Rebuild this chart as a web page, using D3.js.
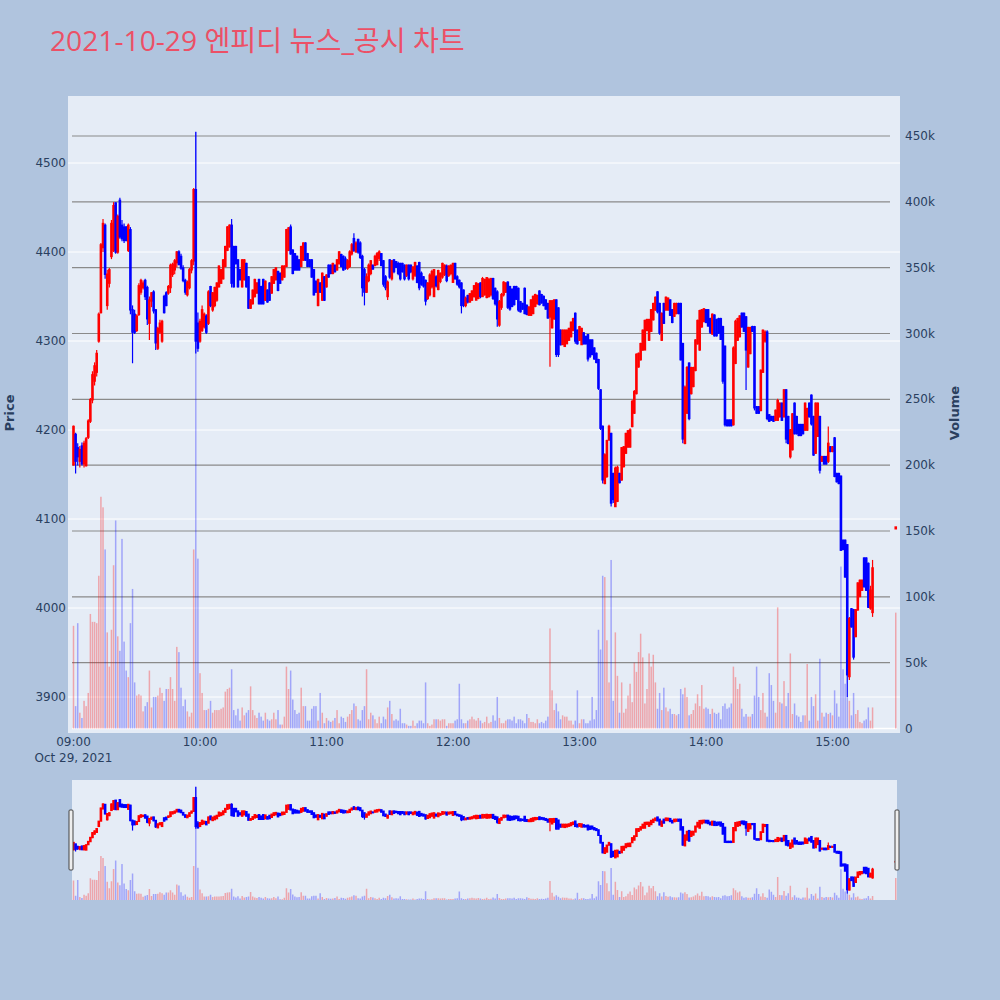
<!DOCTYPE html>
<html>
<head>
<meta charset="utf-8">
<script src="https://d3js.org/d3.v7.min.js"></script>
<style>
body { margin: 0; background: #b0c4de; }
svg { display: block; font-family: "DejaVu Sans", verdana, arial, sans-serif; }
</style>
</head>
<body>
<svg id="chart" width="1000" height="1000"></svg>
<script>
var chartTitle = "2021-10-29 엔피디 뉴스_공시 차트";
var tradeDate = "2021-10-29";
var sessionOpen = "09:00";      // one bar per minute from here
var auctionTime = "15:30";      // last entry of every array is the closing auction

var opens = [
  4161,4195,4180,4165,4182,4162,4160,4192,4210,4234,
  4255,4265,4300,4332,4405,4430,4340,4365,4395,4402,
  4455,4400,4458,4430,4428,4428,4402,4425,4335,4330,
  4312,4330,4355,4360,4368,4360,4320,4345,4355,4335,
  4292,4310,4300,4350,4354,4354,4360,4375,4380,4388,
  4400,4395,4382,4368,4352,4360,4380,4390,4470,4320,
  4300,4312,4316,4328,4320,4361,4335,4340,4346,4361,
  4365,4370,4384,4402,4406,4430,4406,4406,4391,4380,
  4361,4369,4387,4372,4337,4342,4350,4354,4369,4361,
  4369,4346,4357,4365,4354,4365,4369,4378,4376,4369,
  4372,4384,4402,4428,4402,4398,4395,4391,4384,4391,
  4410,4398,4391,4391,4380,4367,4340,4365,4346,4372,
  4361,4385,4385,4376,4385,4380,4387,4397,4395,4392,
  4382,4384,4398,4415,4400,4414,4410,4395,4380,4355,
  4368,4376,4385,4385,4386,4393,4398,4390,4372,4350,
  4391,4370,4391,4389,4387,4387,4387,4385,4374,4385,
  4385,4370,4374,4384,4388,4376,4372,4368,4348,4352,
  4361,4350,4372,4358,4367,4372,4375,4384,4374,4376,
  4366,4387,4372,4368,4365,4357,4340,4351,4344,4346,
  4350,4346,4348,4365,4350,4352,4349,4350,4352,4370,
  4359,4355,4318,4338,4352,4355,4366,4361,4358,4361,
  4361,4359,4344,4342,4359,4340,4329,4329,4331,4339,
  4342,4356,4352,4350,4346,4342,4327,4315,4325,4346,
  4337,4312,4296,4294,4297,4301,4305,4312,4331,4312,
  4301,4296,4309,4305,4307,4301,4301,4292,4286,4279,
  4245,4204,4140,4148,4189,4196,4151,4114,4120,4151,
  4144,4159,4174,4181,4181,4204,4219,4241,4271,4279,
  4290,4290,4312,4301,4311,4324,4335,4355,4342,4301,
  4342,4335,4335,4346,4335,4328,4331,4342,4342,4297,
  4185,4219,4275,4241,4249,4267,4297,4290,4316,4322,
  4335,4335,4325,4308,4329,4324,4325,4325,4316,4294,
  4211,4211,4211,4206,4275,4301,4305,4331,4331,4327,
  4271,4286,4316,4316,4226,4226,4222,4265,4300,4310,
  4217,4215,4215,4211,4211,4215,4230,4215,4245,4215,
  4170,4178,4230,4215,4206,4206,4206,4200,4200,4230,
  4239,4215,4174,4193,4215,4165,4170,4170,4165,4181,
  4176,4191,4151,4151,4148,4076,4076,4071,3923,3999,
  3998,3968,3998,4013,4020,4056,4056,4050,4000,3995,
  4089
];

var highs = [
  4205,4197,4185,4182,4186,4188,4192,4212,4236,4266,
  4276,4290,4332,4410,4437,4432,4380,4382,4436,4456,
  4456,4442,4461,4436,4432,4429,4432,4428,4340,4335,
  4330,4365,4370,4368,4370,4362,4350,4355,4357,4336,
  4316,4324,4324,4352,4356,4363,4387,4388,4392,4401,
  4402,4398,4385,4370,4368,4382,4392,4472,4535,4332,
  4325,4340,4332,4330,4357,4362,4355,4361,4366,4385,
  4381,4392,4407,4429,4431,4437,4407,4407,4392,4381,
  4392,4392,4388,4373,4347,4358,4370,4366,4370,4362,
  4370,4368,4358,4366,4373,4381,4383,4379,4377,4385,
  4385,4426,4428,4431,4403,4399,4396,4392,4407,4411,
  4411,4399,4392,4392,4381,4368,4370,4366,4377,4373,
  4375,4386,4386,4388,4386,4392,4401,4398,4396,4395,
  4392,4402,4410,4421,4412,4415,4412,4397,4382,4376,
  4387,4391,4386,4397,4400,4402,4399,4391,4374,4368,
  4392,4391,4392,4390,4389,4388,4388,4386,4386,4386,
  4386,4384,4389,4385,4389,4378,4373,4369,4366,4376,
  4380,4381,4374,4380,4377,4388,4386,4386,4385,4386,
  4388,4388,4374,4369,4366,4358,4350,4352,4354,4357,
  4363,4366,4365,4366,4372,4370,4372,4371,4371,4371,
  4360,4357,4346,4354,4367,4366,4367,4362,4359,4362,
  4362,4360,4345,4343,4360,4341,4339,4347,4351,4353,
  4352,4357,4353,4351,4347,4343,4346,4346,4347,4347,
  4338,4313,4313,4313,4313,4315,4322,4326,4332,4313,
  4317,4315,4310,4306,4308,4302,4302,4293,4287,4280,
  4246,4205,4174,4189,4206,4197,4152,4159,4160,4152,
  4181,4182,4197,4200,4202,4234,4245,4286,4287,4298,
  4313,4324,4325,4325,4336,4343,4350,4356,4343,4332,
  4343,4350,4349,4347,4336,4343,4343,4343,4343,4298,
  4250,4272,4276,4271,4271,4302,4324,4335,4336,4337,
  4336,4336,4326,4331,4330,4325,4326,4326,4317,4295,
  4212,4212,4212,4294,4324,4326,4329,4332,4332,4328,
  4316,4316,4317,4317,4227,4227,4268,4313,4312,4312,
  4218,4216,4216,4223,4235,4231,4231,4246,4246,4216,
  4201,4219,4231,4216,4207,4207,4207,4231,4225,4231,
  4240,4216,4231,4231,4216,4171,4171,4171,4204,4182,
  4182,4192,4152,4152,4149,4077,4077,4072,3990,4000,
  3999,3999,4029,4032,4032,4057,4057,4051,4025,4054,
  4091
];

var lows = [
  4160,4151,4160,4158,4160,4158,4159,4190,4208,4230,
  4250,4260,4298,4331,4400,4370,4335,4360,4392,4400,
  4398,4398,4415,4412,4410,4412,4400,4330,4275,4308,
  4310,4328,4352,4358,4346,4318,4301,4338,4331,4290,
  4290,4308,4298,4331,4339,4352,4354,4372,4375,4383,
  4385,4380,4366,4352,4350,4358,4376,4385,4286,4288,
  4298,4310,4314,4308,4318,4338,4333,4338,4344,4360,
  4364,4369,4383,4401,4405,4360,4360,4386,4360,4368,
  4360,4368,4360,4336,4336,4341,4349,4353,4341,4341,
  4341,4345,4343,4345,4353,4364,4368,4356,4364,4368,
  4371,4383,4401,4397,4375,4379,4379,4379,4383,4390,
  4390,4383,4383,4371,4351,4354,4339,4354,4345,4345,
  4360,4371,4375,4375,4377,4379,4386,4383,4379,4380,
  4380,4382,4396,4400,4400,4398,4392,4350,4340,4354,
  4366,4374,4380,4384,4385,4390,4384,4361,4357,4346,
  4370,4368,4376,4382,4374,4368,4377,4368,4372,4368,
  4376,4368,4372,4365,4357,4362,4360,4340,4346,4350,
  4359,4350,4360,4357,4365,4370,4373,4366,4372,4374,
  4366,4369,4362,4359,4331,4338,4338,4342,4343,4345,
  4349,4346,4347,4348,4350,4351,4348,4349,4350,4346,
  4340,4316,4316,4335,4350,4354,4336,4334,4338,4340,
  4346,4333,4332,4335,4330,4329,4329,4328,4330,4338,
  4341,4340,4342,4339,4335,4325,4271,4314,4324,4282,
  4282,4295,4296,4294,4297,4300,4304,4311,4297,4296,
  4300,4296,4296,4296,4277,4281,4284,4279,4275,4245,
  4200,4140,4139,4146,4188,4114,4118,4114,4119,4140,
  4143,4158,4173,4180,4180,4203,4218,4240,4270,4278,
  4289,4290,4311,4300,4310,4323,4334,4331,4307,4300,
  4319,4334,4334,4328,4320,4327,4330,4330,4278,4185,
  4184,4218,4211,4240,4248,4266,4296,4289,4315,4321,
  4320,4316,4308,4307,4305,4305,4308,4301,4252,4204,
  4204,4204,4204,4205,4274,4300,4304,4315,4310,4245,
  4270,4285,4310,4222,4218,4218,4221,4264,4298,4211,
  4209,4210,4209,4210,4210,4214,4210,4214,4185,4184,
  4168,4177,4195,4195,4193,4193,4195,4199,4199,4214,
  4205,4171,4173,4192,4151,4164,4161,4161,4163,4175,
  4175,4147,4141,4139,4064,4065,4034,3900,3919,3978,
  3942,3967,3997,4012,4019,4023,4019,4000,3998,3990,
  4089
];

var closes = [
  4204,4165,4170,4178,4162,4185,4190,4210,4234,4262,
  4272,4286,4330,4408,4432,4375,4375,4380,4432,4452,
  4400,4440,4417,4415,4413,4413,4430,4335,4310,4310,
  4328,4362,4368,4365,4350,4325,4346,4354,4334,4298,
  4314,4320,4322,4332,4340,4361,4385,4386,4390,4400,
  4386,4382,4368,4355,4366,4380,4390,4470,4300,4292,
  4322,4335,4330,4310,4355,4340,4354,4360,4365,4384,
  4380,4391,4406,4428,4430,4365,4361,4387,4361,4369,
  4391,4391,4361,4337,4346,4357,4369,4365,4342,4342,
  4342,4367,4344,4346,4372,4380,4382,4357,4365,4384,
  4384,4425,4427,4398,4376,4380,4380,4380,4406,4410,
  4391,4384,4384,4372,4352,4355,4369,4355,4376,4346,
  4374,4372,4376,4387,4378,4391,4400,4384,4380,4382,
  4390,4400,4408,4402,4410,4400,4394,4360,4355,4372,
  4385,4390,4381,4395,4398,4400,4385,4364,4360,4366,
  4372,4390,4378,4383,4376,4370,4378,4370,4385,4370,
  4378,4383,4388,4366,4360,4364,4362,4345,4365,4374,
  4378,4380,4362,4379,4376,4387,4385,4368,4384,4385,
  4387,4370,4364,4361,4340,4340,4348,4344,4353,4356,
  4362,4365,4364,4350,4370,4369,4371,4369,4370,4348,
  4342,4325,4344,4352,4366,4365,4338,4336,4339,4341,
  4347,4335,4333,4336,4331,4330,4338,4346,4350,4352,
  4351,4341,4343,4340,4336,4326,4345,4345,4346,4285,
  4285,4296,4312,4312,4312,4314,4321,4325,4300,4297,
  4316,4314,4297,4297,4280,4283,4285,4280,4276,4247,
  4202,4144,4172,4188,4204,4118,4122,4157,4158,4141,
  4180,4181,4196,4199,4200,4232,4243,4285,4286,4297,
  4312,4323,4324,4324,4335,4342,4349,4333,4309,4331,
  4320,4349,4348,4329,4321,4342,4342,4331,4279,4190,
  4248,4270,4213,4270,4270,4301,4323,4334,4335,4336,
  4321,4317,4310,4330,4306,4306,4309,4302,4255,4206,
  4205,4205,4205,4292,4322,4325,4328,4316,4311,4290,
  4315,4315,4311,4225,4219,4219,4267,4312,4310,4213,
  4210,4211,4210,4222,4233,4230,4211,4245,4190,4185,
  4200,4218,4196,4196,4194,4194,4196,4230,4224,4215,
  4207,4172,4230,4230,4155,4170,4162,4162,4185,4176,
  4181,4148,4142,4140,4065,4066,4035,3925,3988,3979,
  3945,3998,4028,4031,4031,4024,4020,4001,4020,4045,
  4091
];

// traded volume, thousands of shares
var volumesK = [
  78,17,80,12,8,21,17,27,87,81,
  81,80,116,176,168,136,73,47,75,124,
  158,70,59,144,66,44,39,80,106,35,
  25,26,25,13,17,20,44,16,24,24,
  25,31,27,21,30,30,39,30,21,62,
  58,31,17,22,13,9,12,136,453,129,
  42,27,14,14,15,21,12,14,14,14,
  15,16,28,30,31,45,14,10,15,6,
  16,10,12,14,32,14,10,8,12,9,
  6,12,7,6,7,12,7,14,3,3,
  9,47,30,44,22,14,11,12,31,17,
  17,6,6,15,17,17,6,27,12,4,
  8,6,5,6,8,14,4,9,8,5,
  9,11,14,19,17,7,6,14,17,45,
  7,12,10,7,4,9,4,9,7,16,
  21,11,6,7,6,15,4,4,3,2,
  2,6,2,4,6,6,4,35,4,2,
  3,7,7,7,6,7,7,2,4,4,
  4,6,7,34,7,4,4,6,7,9,
  7,6,8,6,4,5,9,4,5,10,
  6,24,8,4,4,6,7,7,6,9,
  4,7,7,6,4,11,8,5,5,4,
  7,4,5,4,6,9,76,29,14,19,
  13,7,10,9,9,6,6,3,6,29,
  4,7,7,4,4,6,24,7,14,75,
  60,116,115,67,35,128,21,73,40,12,
  35,12,15,25,34,20,50,43,58,72,
  54,19,30,57,47,56,35,15,27,14,
  31,16,13,15,11,11,10,11,30,26,
  31,24,10,11,14,19,26,17,33,15,
  16,15,11,15,12,11,12,7,17,19,
  15,16,19,47,39,30,34,15,9,11,
  9,9,11,25,47,24,14,27,12,9,
  42,33,21,12,92,20,19,36,17,27,
  57,11,19,10,9,5,10,10,49,6,
  24,17,26,6,53,12,9,12,11,12,
  10,29,19,9,123,45,34,24,21,10,
  27,11,14,5,4,6,7,16,6,16,
  88
];

var priceTicks = [3900, 4000, 4100, 4200, 4300, 4400, 4500];
var volumeTicksK = [0, 50, 100, 150, 200, 250, 300, 350, 400, 450];
var hourTicks = ["09:00", "10:00", "11:00", "12:00", "13:00", "14:00", "15:00"];

var parseTime = d3.timeParse("%Y-%m-%d %H:%M");
var start = parseTime(tradeDate + " " + sessionOpen);
var times = opens.map(function(d, i) {
    if (i === opens.length - 1) return parseTime(tradeDate + " " + auctionTime);
    return d3.timeMinute.offset(start, i);
});
var idx = d3.range(opens.length);

var svg = d3.select("#chart");
var UP = "#ff0000", DOWN = "#0000ff";
function col(i) { return closes[i] > opens[i] ? UP : DOWN; }

// scales
var x = d3.scaleTime()
    .domain([parseTime(tradeDate + " 09:00"), parseTime(tradeDate + " 15:00")])
    .range([73.5, 832.5]);
var y = d3.scaleLinear().domain([3900, 4500]).range([697, 163]);
var yv = d3.scaleLinear().domain([0, 450]).range([728.5, 136]);

var plot = {left: 68, top: 96, right: 900, bottom: 733};
var slider = {left: 72, top: 780, right: 897, bottom: 900};

// title
svg.append("text")
    .attr("x", 50).attr("y", 51)
    .attr("fill", "#ec5066")
    .style("font-family", "'Open Sans', 'Noto Sans CJK KR', sans-serif")
    .style("font-size", "28.2px")
    .text(chartTitle);

// plot background
svg.append("rect")
    .attr("x", plot.left).attr("y", plot.top)
    .attr("width", plot.right - plot.left).attr("height", plot.bottom - plot.top)
    .attr("fill", "#e5ecf6");

var defs = svg.append("defs");
defs.append("clipPath").attr("id", "clipMain").append("rect")
    .attr("x", plot.left).attr("y", plot.top)
    .attr("width", plot.right - plot.left).attr("height", plot.bottom - plot.top);
defs.append("clipPath").attr("id", "clipSlider").append("rect")
    .attr("x", slider.left).attr("y", slider.top)
    .attr("width", slider.right - slider.left).attr("height", slider.bottom - slider.top);

// price grid (white)
svg.append("g").selectAll("line").data(priceTicks).join("line")
    .attr("x1", plot.left).attr("x2", plot.right)
    .attr("y1", function(d) { return y(d); }).attr("y2", function(d) { return y(d); })
    .attr("stroke", "#fff").attr("stroke-width", 1);

// volume zero line + grid (gray)
svg.append("line")
    .attr("x1", 72).attr("x2", 897)
    .attr("y1", yv(0)).attr("y2", yv(0))
    .attr("stroke", "#fff").attr("stroke-width", 1.5);
svg.append("g").selectAll("line").data(volumeTicksK.slice(1)).join("line")
    .attr("x1", 72).attr("x2", 890)
    .attr("y1", function(d) { return yv(d); }).attr("y2", function(d) { return yv(d); })
    .attr("stroke", "#8a8a8a").attr("stroke-width", 1.2);

function drawVolume(g, vs) {
    g.selectAll("rect.vol").data(idx).join("rect")
        .attr("class", "vol")
        .attr("x", function(i) { return x(times[i]) - 0.75; })
        .attr("width", 1.5)
        .attr("y", function(i) { return vs(volumesK[i]); })
        .attr("height", function(i) { return vs(0) - vs(volumesK[i]); })
        .attr("fill", col)
        .attr("fill-opacity", 0.3);
}

function drawCandles(g, ys) {
    g.selectAll("line.wick").data(idx).join("line")
        .attr("class", "wick")
        .attr("x1", function(i) { return x(times[i]); })
        .attr("x2", function(i) { return x(times[i]); })
        .attr("y1", function(i) { return ys(highs[i]); })
        .attr("y2", function(i) { return ys(lows[i]); })
        .attr("stroke", col).attr("stroke-width", 1.2);
    g.selectAll("rect.body").data(idx).join("rect")
        .attr("class", "body")
        .attr("x", function(i) { return x(times[i]) - 1.3; })
        .attr("width", 2.6)
        .attr("y", function(i) { return ys(Math.max(opens[i], closes[i])) - 0.7; })
        .attr("height", function(i) { return Math.abs(ys(opens[i]) - ys(closes[i])) + 1.4; })
        .attr("fill", col);
}

var main = svg.append("g").attr("clip-path", "url(#clipMain)");
drawVolume(main.append("g"), yv);
drawCandles(main.append("g"), y);

// axis labels
var lab = svg.append("g").attr("fill", "#2a3f5f").style("font-size", "12px");
lab.selectAll("text.py").data(priceTicks).join("text")
    .attr("class", "py")
    .attr("x", 66).attr("y", function(d) { return y(d) + 4; })
    .attr("text-anchor", "end")
    .text(function(d) { return d; });
lab.selectAll("text.vy").data(volumeTicksK).join("text")
    .attr("class", "vy")
    .attr("x", 905).attr("y", function(d) { return yv(d) + 4; })
    .text(function(d) { return d === 0 ? "0" : d + "k"; });
lab.selectAll("text.tx").data(hourTicks).join("text")
    .attr("class", "tx")
    .attr("x", function(d) { return x(parseTime(tradeDate + " " + d)); })
    .attr("y", 746)
    .attr("text-anchor", "middle")
    .text(function(d) { return d; });
lab.append("text")
    .attr("x", x(start)).attr("y", 762)
    .attr("text-anchor", "middle")
    .text(d3.timeFormat("%b %e, %Y")(start).replace("  ", " "));

svg.append("text")
    .attr("transform", "translate(14,413) rotate(-90)")
    .attr("text-anchor", "middle")
    .attr("fill", "#2a3f5f")
    .style("font-size", "13px").style("font-weight", "bold")
    .text("Price");
svg.append("text")
    .attr("transform", "translate(959,413) rotate(-90)")
    .attr("text-anchor", "middle")
    .attr("fill", "#2a3f5f")
    .style("font-size", "13px").style("font-weight", "bold")
    .text("Volume");

// range slider
svg.append("rect")
    .attr("x", slider.left).attr("y", slider.top)
    .attr("width", slider.right - slider.left).attr("height", slider.bottom - slider.top)
    .attr("fill", "#e5ecf6");
var sy = d3.scaleLinear().domain([y.invert(plot.bottom - 3), y.invert(plot.top)]).range([slider.bottom, slider.top]);
var syv = d3.scaleLinear().domain([0, yv.invert(plot.top)]).range([slider.bottom, slider.top]);
var mini = svg.append("g").attr("clip-path", "url(#clipSlider)");
drawVolume(mini.append("g"), syv);
drawCandles(mini.append("g"), sy);

[slider.left - 3, slider.right - 2].forEach(function(hx) {
    svg.append("rect")
        .attr("x", hx).attr("y", 810)
        .attr("width", 4).attr("height", 60)
        .attr("fill", "#eee").attr("stroke", "#444").attr("stroke-width", 1)
        .attr("rx", 1);
});
</script>
</body>
</html>
